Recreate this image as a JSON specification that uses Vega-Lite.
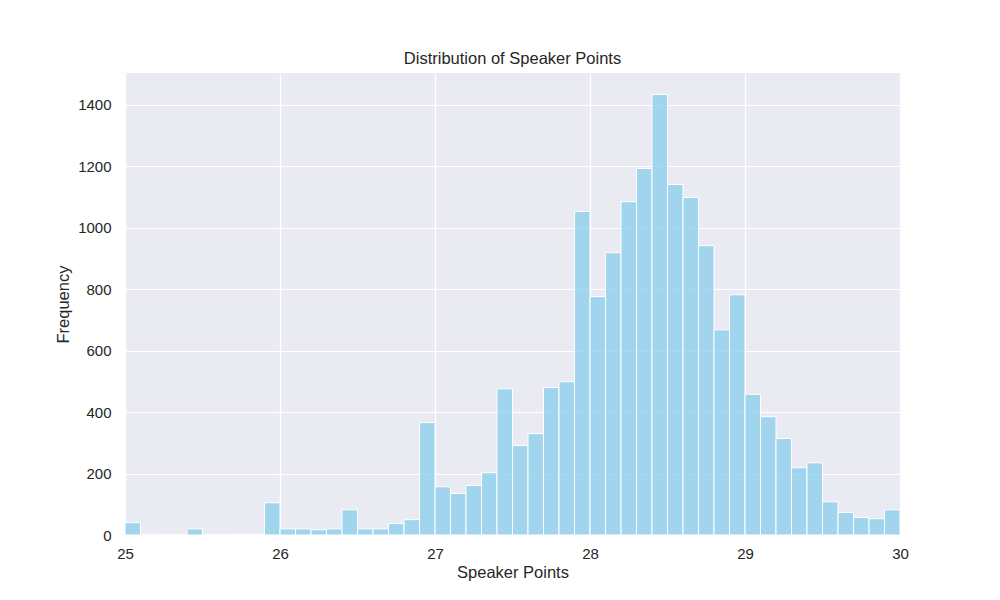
{
  "$schema": "https://vega.github.io/schema/vega-lite/v6.json",
  "width": 775,
  "height": 462,
  "autosize": {"type": "none"},
  "padding": {"left": 125, "top": 73, "right": 100, "bottom": 65},
  "background": "white",
  "title": {"text": "Distribution of Speaker Points", "font": "Liberation Sans", "fontSize": 16.5, "fontWeight": "normal", "color": "#262626", "offset": 6},
  "config": {
    "view": {"fill": "#EAEAF2", "stroke": null},
    "axis": {"labelFont": "Liberation Sans", "titleFont": "Liberation Sans", "labelFontSize": 15, "titleFontSize": 16.5, "titleFontWeight": "normal", "labelColor": "#262626", "titleColor": "#262626", "gridColor": "white", "gridWidth": 1.2, "domain": false, "ticks": false}
  },
  "data": {"values": [
    {"start": 25.0, "end": 25.1, "count": 40}, {"start": 25.1, "end": 25.2, "count": 3}, {"start": 25.2, "end": 25.3, "count": 1}, {"start": 25.3, "end": 25.4, "count": 1},
    {"start": 25.4, "end": 25.5, "count": 20}, {"start": 25.5, "end": 25.6, "count": 1}, {"start": 25.6, "end": 25.7, "count": 1}, {"start": 25.7, "end": 25.8, "count": 2},
    {"start": 25.8, "end": 25.9, "count": 2}, {"start": 25.9, "end": 26.0, "count": 105}, {"start": 26.0, "end": 26.1, "count": 20}, {"start": 26.1, "end": 26.2, "count": 20},
    {"start": 26.2, "end": 26.3, "count": 17}, {"start": 26.3, "end": 26.4, "count": 20}, {"start": 26.4, "end": 26.5, "count": 82}, {"start": 26.5, "end": 26.6, "count": 20},
    {"start": 26.6, "end": 26.7, "count": 20}, {"start": 26.7, "end": 26.8, "count": 37}, {"start": 26.8, "end": 26.9, "count": 50}, {"start": 26.9, "end": 27.0, "count": 366},
    {"start": 27.0, "end": 27.1, "count": 157}, {"start": 27.1, "end": 27.2, "count": 135}, {"start": 27.2, "end": 27.3, "count": 161}, {"start": 27.3, "end": 27.4, "count": 203},
    {"start": 27.4, "end": 27.5, "count": 476}, {"start": 27.5, "end": 27.6, "count": 291}, {"start": 27.6, "end": 27.7, "count": 330}, {"start": 27.7, "end": 27.8, "count": 480},
    {"start": 27.8, "end": 27.9, "count": 499}, {"start": 27.9, "end": 28.0, "count": 1053}, {"start": 28.0, "end": 28.1, "count": 776}, {"start": 28.1, "end": 28.2, "count": 919},
    {"start": 28.2, "end": 28.3, "count": 1085}, {"start": 28.3, "end": 28.4, "count": 1193}, {"start": 28.4, "end": 28.5, "count": 1434}, {"start": 28.5, "end": 28.6, "count": 1141},
    {"start": 28.6, "end": 28.7, "count": 1099}, {"start": 28.7, "end": 28.8, "count": 942}, {"start": 28.8, "end": 28.9, "count": 668}, {"start": 28.9, "end": 29.0, "count": 782},
    {"start": 29.0, "end": 29.1, "count": 458}, {"start": 29.1, "end": 29.2, "count": 385}, {"start": 29.2, "end": 29.3, "count": 314}, {"start": 29.3, "end": 29.4, "count": 219},
    {"start": 29.4, "end": 29.5, "count": 235}, {"start": 29.5, "end": 29.6, "count": 108}, {"start": 29.6, "end": 29.7, "count": 73}, {"start": 29.7, "end": 29.8, "count": 57},
    {"start": 29.8, "end": 29.9, "count": 53}, {"start": 29.9, "end": 30.0, "count": 82}
  ]},
  "mark": {"type": "bar", "fill": "#87CEEB", "fillOpacity": 0.75, "stroke": "white", "strokeWidth": 1},
  "encoding": {
    "x": {"field": "start", "type": "quantitative", "scale": {"domain": [25, 30], "nice": false, "zero": false},
      "axis": {"title": "Speaker Points", "values": [25, 26, 27, 28, 29, 30], "format": "d", "labelFlush": false, "labelPadding": 11, "titlePadding": 3}},
    "x2": {"field": "end"},
    "y": {"field": "count", "type": "quantitative", "scale": {"domain": [0, 1504], "nice": false},
      "axis": {"title": "Frequency", "values": [0, 200, 400, 600, 800, 1000, 1200, 1400], "format": "d", "labelPadding": 14, "titlePadding": 6}},
    "y2": {"datum": 0}
  }
}
